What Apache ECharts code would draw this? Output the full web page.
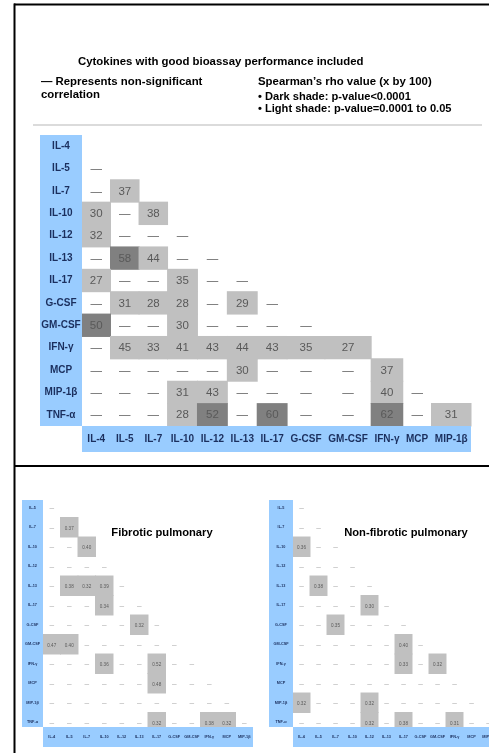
<!DOCTYPE html>
<html>
<head>
<meta charset="utf-8">
<script src="https://cdn.jsdelivr.net/npm/echarts@6/dist/echarts.min.js"></script>
<style>
  html, body { margin: 0; padding: 0; background: #ffffff; }
  #chart { width: 489px; height: 753px; }
</style>
</head>
<body>
<div id="chart"></div>
<script>
// ---- Data -------------------------------------------------------------
const cytokines = ['IL-4', 'IL-5', 'IL-7', 'IL-10', 'IL-12', 'IL-13', 'IL-17',
  'G-CSF', 'GM-CSF', 'IFN-γ', 'MCP', 'MIP-1β', 'TNF-α'];

// All patients: Spearman's rho x 100, lower triangle (row vs. column).
// null = non-significant correlation.
const rhoAll = [
  [],
  [null],
  [null, 37],
  [30, null, 38],
  [32, null, null, null],
  [null, 58, 44, null, null],
  [27, null, null, 35, null, null],
  [null, 31, 28, 28, null, 29, null],
  [50, null, null, 30, null, null, null, null],
  [null, 45, 33, 41, 43, 44, 43, 35, 27],
  [null, null, null, null, null, 30, null, null, null, 37],
  [null, null, null, 31, 43, null, null, null, null, 40, null],
  [null, null, null, 28, 52, null, 60, null, null, 62, null, 31]
];
// Pairs with p-value < 0.0001 (dark shade): [row, column]
const strongPairs = [
  ['IL-13', 'IL-5'], ['GM-CSF', 'IL-4'], ['TNF-α', 'IL-12'],
  ['TNF-α', 'IL-17'], ['TNF-α', 'IFN-γ']
];

// Sub-groups: rows start at IL-5, columns run IL-4 .. MIP-1β
const rhoFibrotic = [
  [null],
  [null, 0.37],
  [null, null, 0.40],
  [null, null, null, null],
  [null, 0.38, 0.32, 0.39, null],
  [null, null, null, 0.34, null, null],
  [null, null, null, null, null, 0.32, null],
  [0.47, 0.40, null, null, null, null, null, null],
  [null, null, null, 0.36, null, null, 0.52, null, null],
  [null, null, null, null, null, null, 0.48, null, null, null],
  [null, null, null, null, null, null, null, null, null, null, null],
  [null, null, null, null, null, null, 0.32, null, null, 0.38, 0.32, null]
];
const rhoNonFibrotic = [
  [null],
  [null, null],
  [0.36, null, null],
  [null, null, null, null],
  [null, 0.38, null, null, null],
  [null, null, null, null, 0.30, null],
  [null, null, 0.35, null, null, null, null],
  [null, null, null, null, null, null, 0.40, null],
  [null, null, null, null, null, null, 0.33, null, 0.32],
  [null, null, null, null, null, null, null, null, null, null],
  [0.32, null, null, null, 0.32, null, null, null, null, null, null],
  [null, null, null, null, 0.32, null, 0.38, null, null, 0.31, null, null]
];

// ---- Styling ------------------------------------------------------------
const mainRows = cytokines;
const mainCols = cytokines.slice(0, 12);
const subRows = cytokines.slice(1);
const subCols = cytokines.slice(0, 12);

const SANS = "'Liberation Sans',Arial,Helvetica,sans-serif";
const BLUE = '#99ccff';
const NAVY = '#1b2f5e';
const LIGHT = '#c0c0c0';
const DARK = '#808080';
const CELL_TEXT = '#595959';
const MAIN_LABEL_FONT = 'bold 10px ' + SANS;

// Column widths follow the header text, like a table sized to its headings
function textWidth(str, font) {
  const ctx = document.createElement('canvas').getContext('2d');
  ctx.font = font;
  return ctx.measureText(str).width;
}
const colWidths = mainCols.map(n => Math.max(28, textWidth(n, MAIN_LABEL_FONT) + 6));
const colEdges = [0];
colWidths.forEach(w => colEdges.push(colEdges[colEdges.length - 1] + w));
const colCenters = colWidths.map((w, i) => colEdges[i] + w / 2);
const colTotal = colEdges[colEdges.length - 1];

// ---- Cell data ----------------------------------------------------------
function isStrong(r, c) {
  return strongPairs.some(p => p[0] === r && p[1] === c);
}
const mainData = [];
rhoAll.forEach((row, ri) => {
  row.forEach((v, ci) => {
    const level = v == null ? 0 : (isStrong(mainRows[ri], mainCols[ci]) ? 2 : 1);
    mainData.push([ci, ri, v == null ? 0 : v, level]);
  });
});
function subData(table) {
  const out = [];
  table.forEach((row, ri) => {
    row.forEach((v, ci) => out.push([ci, ri, v == null ? 0 : v, v == null ? 0 : 1]));
  });
  return out;
}

function txt(text, x, y, font, fill) {
  return {
    type: 'text',
    style: {
      text: text, x: x, y: y, font: font, fill: fill,
      align: 'center', verticalAlign: 'middle',
      textAlign: 'center', textVerticalAlign: 'middle'
    }
  };
}

function renderMainCell(params, api) {
  const col = api.value(0), row = api.value(1), level = api.value(3);
  const a = api.coord([colEdges[col], row]);
  const b = api.coord([colEdges[col + 1], row]);
  const h = api.size([0, 1])[1];
  const x0 = a[0], x1 = b[0], cy = a[1];
  const children = [];
  if (level > 0) {
    children.push({
      type: 'rect',
      shape: { x: x0 - 0.5, y: cy - h / 2 - 0.5, width: x1 - x0 + 1, height: h + 1 },
      style: { fill: level === 2 ? DARK : LIGHT }
    });
  }
  children.push(txt(level > 0 ? String(api.value(2)) : '—', (x0 + x1) / 2, cy + 0.5,
    '11.5px ' + SANS, CELL_TEXT));
  return { type: 'group', children: children };
}

function renderSubCell(params, api) {
  const col = api.value(0), row = api.value(1), level = api.value(3);
  const c = api.coord([col, row]);
  const s = api.size([1, 1]);
  const children = [];
  if (level > 0) {
    children.push({
      type: 'rect',
      shape: { x: c[0] - s[0] / 2 - 0.5, y: c[1] - s[1] / 2 - 0.5, width: s[0] + 1, height: s[1] + 1 },
      style: { fill: LIGHT }
    });
  }
  children.push(txt(level > 0 ? api.value(2).toFixed(2) : '—', c[0], c[1] + 1,
    '4.6px ' + SANS, level > 0 ? CELL_TEXT : '#8a8a8a'));
  return { type: 'group', children: children };
}

// ---- Layout -------------------------------------------------------------
const mainGrid = { left: 82, top: 135, width: 389, height: 291 };
const fibGrid = { left: 43, top: 498, width: 210, height: 234 };
const nonGrid = { left: 293, top: 498, width: 204, height: 234 };

function gridOpt(g) {
  return Object.assign({ containLabel: false, outerBoundsMode: 'none' }, g);
}
function hiddenAxisParts() {
  return {
    axisLine: { show: false }, axisTick: { show: false },
    splitLine: { show: false }, splitArea: { show: false }
  };
}

const chart = echarts.init(document.getElementById('chart'));

const headerFont = 'bold 11.4px ' + SANS;
function headerText(text, x, y, font) {
  return {
    type: 'text', z: 20,
    style: { text: text, x: x, y: y, font: font || headerFont, fill: '#000', verticalAlign: 'middle', textVerticalAlign: 'middle' }
  };
}

const graphics = [
  // frame
  { type: 'line', shape: { x1: 14, y1: 4.5, x2: 489, y2: 4.5 }, style: { stroke: '#000', lineWidth: 2 }, z: 20 },
  { type: 'line', shape: { x1: 14.5, y1: 3.5, x2: 14.5, y2: 753 }, style: { stroke: '#000', lineWidth: 2 }, z: 20 },
  { type: 'line', shape: { x1: 14, y1: 466, x2: 489, y2: 466 }, style: { stroke: '#000', lineWidth: 2 }, z: 20 },
  // header separator
  { type: 'line', shape: { x1: 33, y1: 125, x2: 482, y2: 125 }, style: { stroke: '#cfcfcf', lineWidth: 1.5 }, z: 20 },
  // header text
  headerText('Cytokines with good bioassay performance included', 78, 62),
  headerText('— Represents non-significant', 41, 82),
  headerText('correlation', 41, 95),
  headerText('Spearman\u2019s rho value (x by 100)', 258, 82),
  headerText('• Dark shade: p-value<0.0001', 258, 96.5, 'bold 11.1px ' + SANS),
  headerText('• Light shade: p-value=0.0001 to 0.05', 258, 108.5, 'bold 11.1px ' + SANS),
  // label bands: main table
  { type: 'rect', shape: { x: 40, y: mainGrid.top, width: mainGrid.left - 40, height: mainGrid.height }, style: { fill: BLUE }, z: 3 },
  { type: 'rect', shape: { x: mainGrid.left, y: mainGrid.top + mainGrid.height, width: mainGrid.width, height: 26 }, style: { fill: BLUE }, z: 3 },
  // label bands: fibrotic
  { type: 'rect', shape: { x: 22, y: 500, width: fibGrid.left - 22, height: 227 }, style: { fill: BLUE }, z: 3 },
  { type: 'rect', shape: { x: fibGrid.left, y: 727, width: fibGrid.width, height: 20 }, style: { fill: BLUE }, z: 3 },
  // label bands: non-fibrotic
  { type: 'rect', shape: { x: 269, y: 500, width: nonGrid.left - 269, height: 227 }, style: { fill: BLUE }, z: 3 },
  { type: 'rect', shape: { x: nonGrid.left, y: 727, width: nonGrid.width, height: 20 }, style: { fill: BLUE }, z: 3 },
  // panel titles
  { type: 'text', style: { text: 'Fibrotic pulmonary', x: 162, y: 533, font: 'bold 11.2px ' + SANS, fill: '#000', align: 'center', textAlign: 'center', verticalAlign: 'middle', textVerticalAlign: 'middle' }, z: 20 },
  { type: 'text', style: { text: 'Non-fibrotic pulmonary', x: 406, y: 533, font: 'bold 11.2px ' + SANS, fill: '#000', align: 'center', textAlign: 'center', verticalAlign: 'middle', textVerticalAlign: 'middle' }, z: 20 }
];

const subLabel = { fontFamily: SANS, fontWeight: 'bold', fontSize: 3.8, color: NAVY };

chart.setOption({
  animation: false,
  backgroundColor: '#ffffff',
  grid: [gridOpt(mainGrid), gridOpt(fibGrid), gridOpt(nonGrid)],
  xAxis: [
    Object.assign({
      type: 'value', gridIndex: 0, min: 0, max: colTotal, z: 5,
      axisLabel: {
        customValues: colCenters,
        formatter: v => mainCols[colCenters.findIndex(c => Math.abs(c - v) < 1e-6)] || '',
        fontFamily: SANS, fontWeight: 'bold', fontSize: 10, color: NAVY,
        margin: 13, verticalAlign: 'middle'
      }
    }, hiddenAxisParts()),
    Object.assign({
      type: 'category', gridIndex: 1, data: subCols, z: 5,
      axisLabel: Object.assign({ interval: 0, margin: 5, verticalAlign: 'middle' }, subLabel)
    }, hiddenAxisParts()),
    Object.assign({
      type: 'category', gridIndex: 2, data: subCols, z: 5,
      axisLabel: Object.assign({ interval: 0, margin: 5, verticalAlign: 'middle' }, subLabel)
    }, hiddenAxisParts())
  ],
  yAxis: [
    Object.assign({
      type: 'category', gridIndex: 0, data: mainRows, inverse: true, z: 5,
      axisLabel: {
        interval: 0, align: 'center', margin: 21,
        fontFamily: SANS, fontWeight: 'bold', fontSize: 10, color: NAVY
      }
    }, hiddenAxisParts()),
    Object.assign({
      type: 'category', gridIndex: 1, data: subRows, inverse: true, z: 5,
      axisLabel: Object.assign({ interval: 0, align: 'center', margin: 10.5 }, subLabel)
    }, hiddenAxisParts()),
    Object.assign({
      type: 'category', gridIndex: 2, data: subRows, inverse: true, z: 5,
      axisLabel: Object.assign({ interval: 0, align: 'center', margin: 12 }, subLabel)
    }, hiddenAxisParts())
  ],
  series: [
    { type: 'custom', name: 'All', xAxisIndex: 0, yAxisIndex: 0, renderItem: renderMainCell, data: mainData, z: 2, silent: true },
    { type: 'custom', name: 'Fibrotic pulmonary', xAxisIndex: 1, yAxisIndex: 1, renderItem: renderSubCell, data: subData(rhoFibrotic), z: 2, silent: true },
    { type: 'custom', name: 'Non-fibrotic pulmonary', xAxisIndex: 2, yAxisIndex: 2, renderItem: renderSubCell, data: subData(rhoNonFibrotic), z: 2, silent: true }
  ],
  graphic: graphics
});
</script>
</body>
</html>
